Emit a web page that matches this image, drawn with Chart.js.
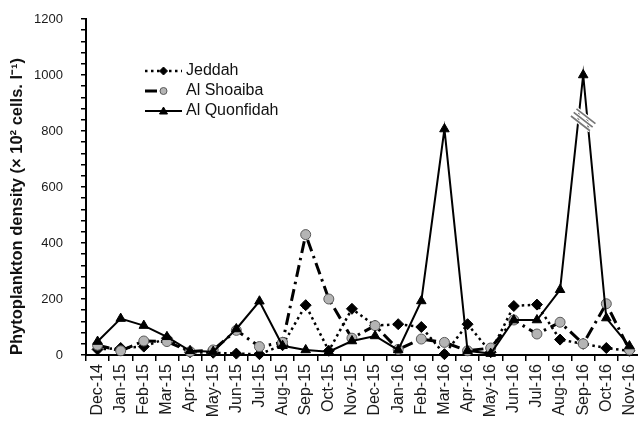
<!DOCTYPE html>
<html>
<head>
<meta charset="utf-8">
<script src="https://cdn.jsdelivr.net/npm/chart.js@4/dist/chart.umd.min.js"></script>
<style>
  html, body { margin: 0; padding: 0; background: #fff; overflow: hidden; }
  #wrap { width: 638px; height: 424px; overflow: hidden; }
</style>
</head>
<body>
<div id="wrap"><canvas id="c" width="641" height="424"></canvas></div>
<script>
// Monthly sampling, Dec 2014 – Nov 2016
const months = ['Dec-14','Jan-15','Feb-15','Mar-15','Apr-15','May-15','Jun-15','Jul-15',
                'Aug-15','Sep-15','Oct-15','Nov-15','Dec-15','Jan-16','Feb-16','Mar-16',
                'Apr-16','May-16','Jun-16','Jul-16','Aug-16','Sep-16','Oct-16','Nov-16'];

// Phytoplankton density (x 10^2 cells/l) per station
const jeddah      = [20, 25, 30, 60, 10, 8, 5, 3, 35, 178, 15, 165, 105, 110, 100, 3, 110, 10, 175, 180, 55, 40, 25, 15];
const alShoaiba   = [35, 15, 50, 48, 12, 18, 88, 30, 45, 430, 200, 60, 105, 20, 57, 45, 15, 25, 125, 75, 117, 40, 183, 18];
const alQuonfidah = [48, 130, 105, 65, 15, 12, 93, 192, 33, 18, 12, 50, 68, 18, 193, 807, 15, 5, 125, 125, 233, 1000, 132, 32];

// Labelled values on the density axis (minor ticks every 40)
const yTickLabels = [0, 200, 400, 600, 800, 1000, 1200];

// Axis-break mark drawn across the Sep-16 peak
const breakMonth = 'Sep-16';
const breakValue = 840;

const FONT = "'Liberation Sans', Arial, sans-serif";

const seriesStyle = {
  jeddah:   { borderColor: '#000', borderWidth: 2.5, borderDash: [2.5, 3.5], pointStyle: 'rectRot', pointRadius: 5.5, bg: '#000', pb: '#000', pbw: 1 },
  shoaiba:  { borderColor: '#000', borderWidth: 3, borderDash: [12, 5, 2.5, 5], pointStyle: 'circle', pointRadius: 5, bg: '#b4b4b4', pb: '#5a5a5a', pbw: 1 },
  quonf:    { borderColor: '#000', borderWidth: 2, borderDash: [], pointStyle: 'triangle', pointRadius: 5.5, bg: '#000', pb: '#000', pbw: 1 }
};

function ds(label, data, s, order) {
  return {
    label, data, order,
    borderColor: s.borderColor,
    borderWidth: s.borderWidth,
    borderDash: s.borderDash,
    borderCapStyle: 'butt',
    tension: 0,
    fill: false,
    clip: false,
    pointStyle: s.pointStyle,
    pointRadius: s.pointRadius,
    pointBackgroundColor: s.bg,
    pointBorderColor: s.pb,
    pointBorderWidth: s.pbw
  };
}

// In-plot legend: line sample with marker, then the station name
const legendPlugin = {
  id: 'insetLegend',
  afterDatasetsDraw(chart) {
    const ctx = chart.ctx;
    const rows = [
      { text: 'Jeddah',       s: seriesStyle.jeddah,  y: 71, full: true },
      { text: 'Al Shoaiba',   s: seriesStyle.shoaiba, y: 91, full: false },
      { text: 'Al Quonfidah', s: seriesStyle.quonf,   y: 111, full: true }
    ];
    const x0 = 145, x1 = 182, xm = 163.5;
    ctx.save();
    rows.forEach(r => {
      ctx.strokeStyle = r.s.borderColor;
      ctx.lineWidth = r.s.borderWidth;
      ctx.setLineDash(r.s.borderDash);
      ctx.beginPath();
      ctx.moveTo(x0, r.y);
      ctx.lineTo(r.full ? x1 : 157, r.y);
      ctx.stroke();
      ctx.setLineDash([]);
      ctx.fillStyle = r.s.bg;
      ctx.strokeStyle = r.s.pb;
      ctx.lineWidth = r.s.pbw;
      ctx.beginPath();
      const rad = r.s.pointRadius - 1.5;
      if (r.s.pointStyle === 'circle') {
        ctx.arc(xm, r.y, rad, 0, Math.PI * 2);
      } else if (r.s.pointStyle === 'rectRot') {
        ctx.moveTo(xm, r.y - rad); ctx.lineTo(xm + rad, r.y); ctx.lineTo(xm, r.y + rad); ctx.lineTo(xm - rad, r.y); ctx.closePath();
      } else {
        ctx.moveTo(xm, r.y - rad); ctx.lineTo(xm + rad, r.y + rad * 0.75); ctx.lineTo(xm - rad, r.y + rad * 0.75); ctx.closePath();
      }
      ctx.fill();
      ctx.stroke();
      ctx.fillStyle = '#111';
      ctx.font = '16px ' + FONT;
      ctx.textAlign = 'left';
      ctx.textBaseline = 'middle';
      ctx.fillText(r.text, 186, r.y);
    });
    ctx.restore();
  }
};

// Break mark: three short grey slashes over the tallest peak
const breakPlugin = {
  id: 'breakMark',
  afterDatasetsDraw(chart) {
    const ctx = chart.ctx;
    const cx = chart.scales.x.getPixelForValue(months.indexOf(breakMonth));
    const cy = chart.scales.y.getPixelForValue(breakValue);
    const ang = Math.PI * 0.21;
    const dx = Math.cos(ang) * 12, dy = Math.sin(ang) * 12;
    const nx = -Math.sin(ang), ny = Math.cos(ang);
    const offs = [-4.5, 0, 4.5];
    ctx.save();
    ctx.lineCap = 'butt';
    offs.forEach(o => {
      ctx.strokeStyle = '#fff';
      ctx.lineWidth = 4;
      ctx.beginPath();
      ctx.moveTo(cx - dx + nx * o, cy - dy + ny * o);
      ctx.lineTo(cx + dx + nx * o, cy + dy + ny * o);
      ctx.stroke();
    });
    offs.forEach(o => {
      ctx.strokeStyle = '#777';
      ctx.lineWidth = 1.7;
      ctx.beginPath();
      ctx.moveTo(cx - dx + nx * o, cy - dy + ny * o);
      ctx.lineTo(cx + dx + nx * o, cy + dy + ny * o);
      ctx.stroke();
    });
    ctx.restore();
  }
};

new Chart(document.getElementById('c'), {
  type: 'line',
  data: {
    labels: months,
    datasets: [
      ds('Jeddah', jeddah, seriesStyle.jeddah, 3),
      ds('Al Shoaiba', alShoaiba, seriesStyle.shoaiba, 2),
      ds('Al Quonfidah', alQuonfidah, seriesStyle.quonf, 1)
    ]
  },
  options: {
    responsive: false,
    animation: false,
    devicePixelRatio: 1,
    layout: { autoPadding: false, padding: { left: 4, top: 19, right: 0, bottom: 0 } },
    plugins: { legend: { display: false }, tooltip: { enabled: false } },
    scales: {
      x: {
        type: 'category',
        offset: true,
        grid: { offset: true, drawOnChartArea: false, drawTicks: true, tickLength: 6, color: '#000', lineWidth: 1.5 },
        border: { display: true, color: '#000', width: 2 },
        ticks: { autoSkip: false, minRotation: 90, maxRotation: 90, padding: 3, color: '#1a1a1a', font: { family: FONT, size: 16 } },
        afterFit(scale) { scale.height = 69; scale.paddingLeft = 0; scale.paddingRight = 0; }
      },
      y: {
        min: 0, max: 1200,
        grid: { drawOnChartArea: false, drawTicks: true, tickLength: 5, color: '#000', lineWidth: 1.5 },
        border: { display: true, color: '#000', width: 2 },
        ticks: {
          stepSize: 40, autoSkip: false, padding: 18, color: '#1a1a1a',
          font: { family: FONT, size: 13 },
          callback: v => (yTickLabels.includes(v) ? String(v) : '')
        },
        title: {
          display: true,
          align: 'start',
          text: 'Phytoplankton density (× 10² cells. l⁻¹)',
          color: '#111',
          font: { family: FONT, size: 16.5, weight: 'bold' },
          padding: { top: 4, bottom: 4 }
        },
        afterFit(scale) { scale.width = 82; scale.paddingTop = 0; scale.paddingBottom = 0; }
      }
    }
  },
  plugins: [legendPlugin, breakPlugin]
});
</script>
</body>
</html>
